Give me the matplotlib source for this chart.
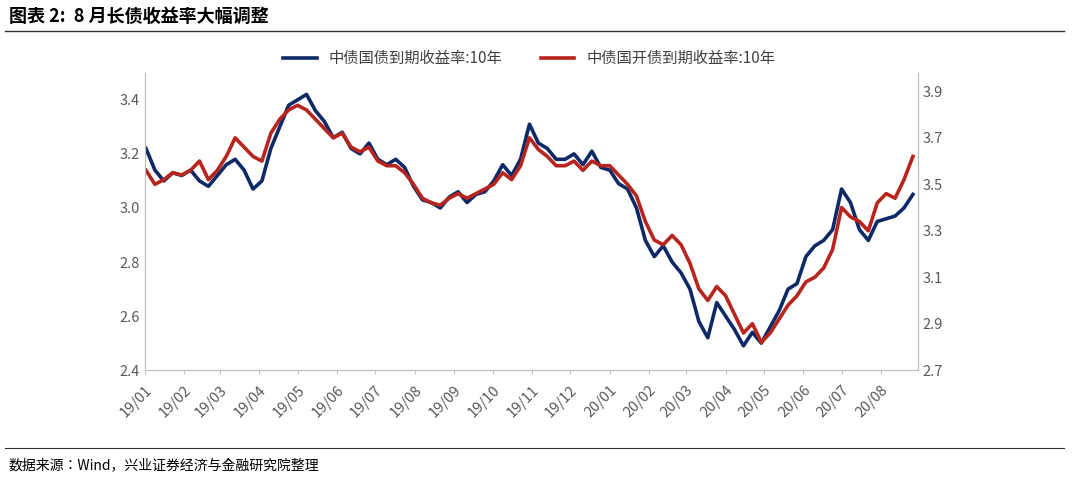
import matplotlib.pyplot as plt
import matplotlib.dates as mdates
import pandas as pd

plt.rcParams["font.family"] = ["sans-serif"]
plt.rcParams["font.sans-serif"] = ["Noto Sans CJK SC", "Noto Sans CJK JP", "Noto Sans CJK TC",
                                   "Noto Sans CJK KR", "DejaVu Sans"]

BLUE = "#0E2A66"
RED = "#B8241E"
GREY = "#595959"

# weekly readings, Jan 2019 - Aug 2020
cgb_10y = [3.22, 3.14, 3.10, 3.13, 3.12,
           3.14, 3.10, 3.08, 3.12,
           3.16, 3.18, 3.14, 3.07,
           3.10, 3.22, 3.30, 3.38,
           3.40, 3.42, 3.36, 3.32, 3.26,
           3.28, 3.22, 3.20, 3.24,
           3.18, 3.16, 3.18, 3.15,
           3.08, 3.03, 3.02, 3.00, 3.04,
           3.06, 3.02, 3.05, 3.06,
           3.10, 3.16, 3.12, 3.18,
           3.31, 3.24, 3.22, 3.18,
           3.18, 3.20, 3.16, 3.21, 3.15,
           3.14, 3.09, 3.07, 3.00,
           2.88, 2.82, 2.86, 2.80,
           2.76, 2.70, 2.58, 2.52, 2.65,
           2.60, 2.55, 2.49, 2.54,
           2.50, 2.56, 2.62, 2.70,
           2.72, 2.82, 2.86, 2.88,
           2.92, 3.07, 3.02, 2.92, 2.88,
           2.95, 2.96, 2.97, 3.00, 3.05]
cdb_10y = [3.56, 3.50, 3.52, 3.55, 3.54,
           3.56, 3.60, 3.52, 3.56,
           3.62, 3.70, 3.66, 3.62,
           3.60, 3.72, 3.78, 3.82,
           3.84, 3.82, 3.78, 3.74, 3.70,
           3.72, 3.66, 3.64, 3.66,
           3.60, 3.58, 3.58, 3.55,
           3.50, 3.44, 3.42, 3.41, 3.44,
           3.46, 3.44, 3.46, 3.48,
           3.50, 3.55, 3.52, 3.58,
           3.70, 3.65, 3.62, 3.58,
           3.58, 3.60, 3.56, 3.60, 3.58,
           3.58, 3.54, 3.50, 3.45,
           3.34, 3.26, 3.24, 3.28,
           3.24, 3.16, 3.05, 3.00, 3.06,
           3.02, 2.94, 2.86, 2.90,
           2.82, 2.86, 2.92, 2.98,
           3.02, 3.08, 3.10, 3.14,
           3.22, 3.40, 3.36, 3.34, 3.30,
           3.42, 3.46, 3.44, 3.52, 3.62]
dates = pd.date_range("2019-01-02", periods=len(cgb_10y), freq="7D")
left_ticks = [2.4, 2.6, 2.8, 3.0, 3.2, 3.4]
right_ticks = [2.7, 2.9, 3.1, 3.3, 3.5, 3.7, 3.9]

fig = plt.figure(figsize=(10.8, 4.82), dpi=100)
ax = fig.add_axes([0.134, 0.232, 0.716, 0.617])
ax2 = ax.twinx()

l1, = ax.plot(dates, cgb_10y, color=BLUE, lw=2.6, label="中债国债到期收益率:10年")
l2, = ax2.plot(dates, cdb_10y, color=RED, lw=2.6, label="中债国开债到期收益率:10年")

ax.set_ylim(2.4, 3.5)
ax2.set_ylim(2.7, 3.98)
ax.set_yticks(left_ticks)
ax2.set_yticks(right_ticks)
ax.set_yticklabels([f"{v:.1f}" for v in left_ticks])
ax2.set_yticklabels([f"{v:.1f}" for v in right_ticks])
ax.set_xlim(pd.Timestamp("2019-01-01"), pd.Timestamp("2020-08-30"))
ax.xaxis.set_major_locator(mdates.MonthLocator())
ax.xaxis.set_major_formatter(mdates.DateFormatter("%y/%m"))
for lab in ax.get_xticklabels():
    lab.set_rotation(45)
    lab.set_ha("right")
    lab.set_rotation_mode("anchor")

for a in (ax, ax2):
    a.tick_params(colors=GREY, labelsize=10.5, length=0)
    a.spines["top"].set_visible(False)
    for s in ("left", "right", "bottom"):
        a.spines[s].set_color("#BFBFBF")
ax.tick_params(axis="x", length=3, color="#BFBFBF", pad=6)

fig.legend(handles=[l1, l2], loc="center", bbox_to_anchor=(0.49, 0.878), ncol=2,
           frameon=False, fontsize=11, handlelength=2.2, columnspacing=2.5,
           labelcolor="#404040")

fig.text(0.008, 0.965, "图表 2:  8 月长债收益率大幅调整", fontsize=13, fontweight="bold",
         va="center", ha="left")
fig.add_artist(plt.Line2D([0.005, 0.985], [0.935, 0.935], color="#333333", lw=1))
fig.add_artist(plt.Line2D([0.005, 0.985], [0.07, 0.07], color="#333333", lw=0.8))
fig.text(0.008, 0.035, "数据来源：Wind，兴业证券经济与金融研究院整理", fontsize=10,
         va="center", ha="left")

fig.savefig("out.png", dpi=100)
